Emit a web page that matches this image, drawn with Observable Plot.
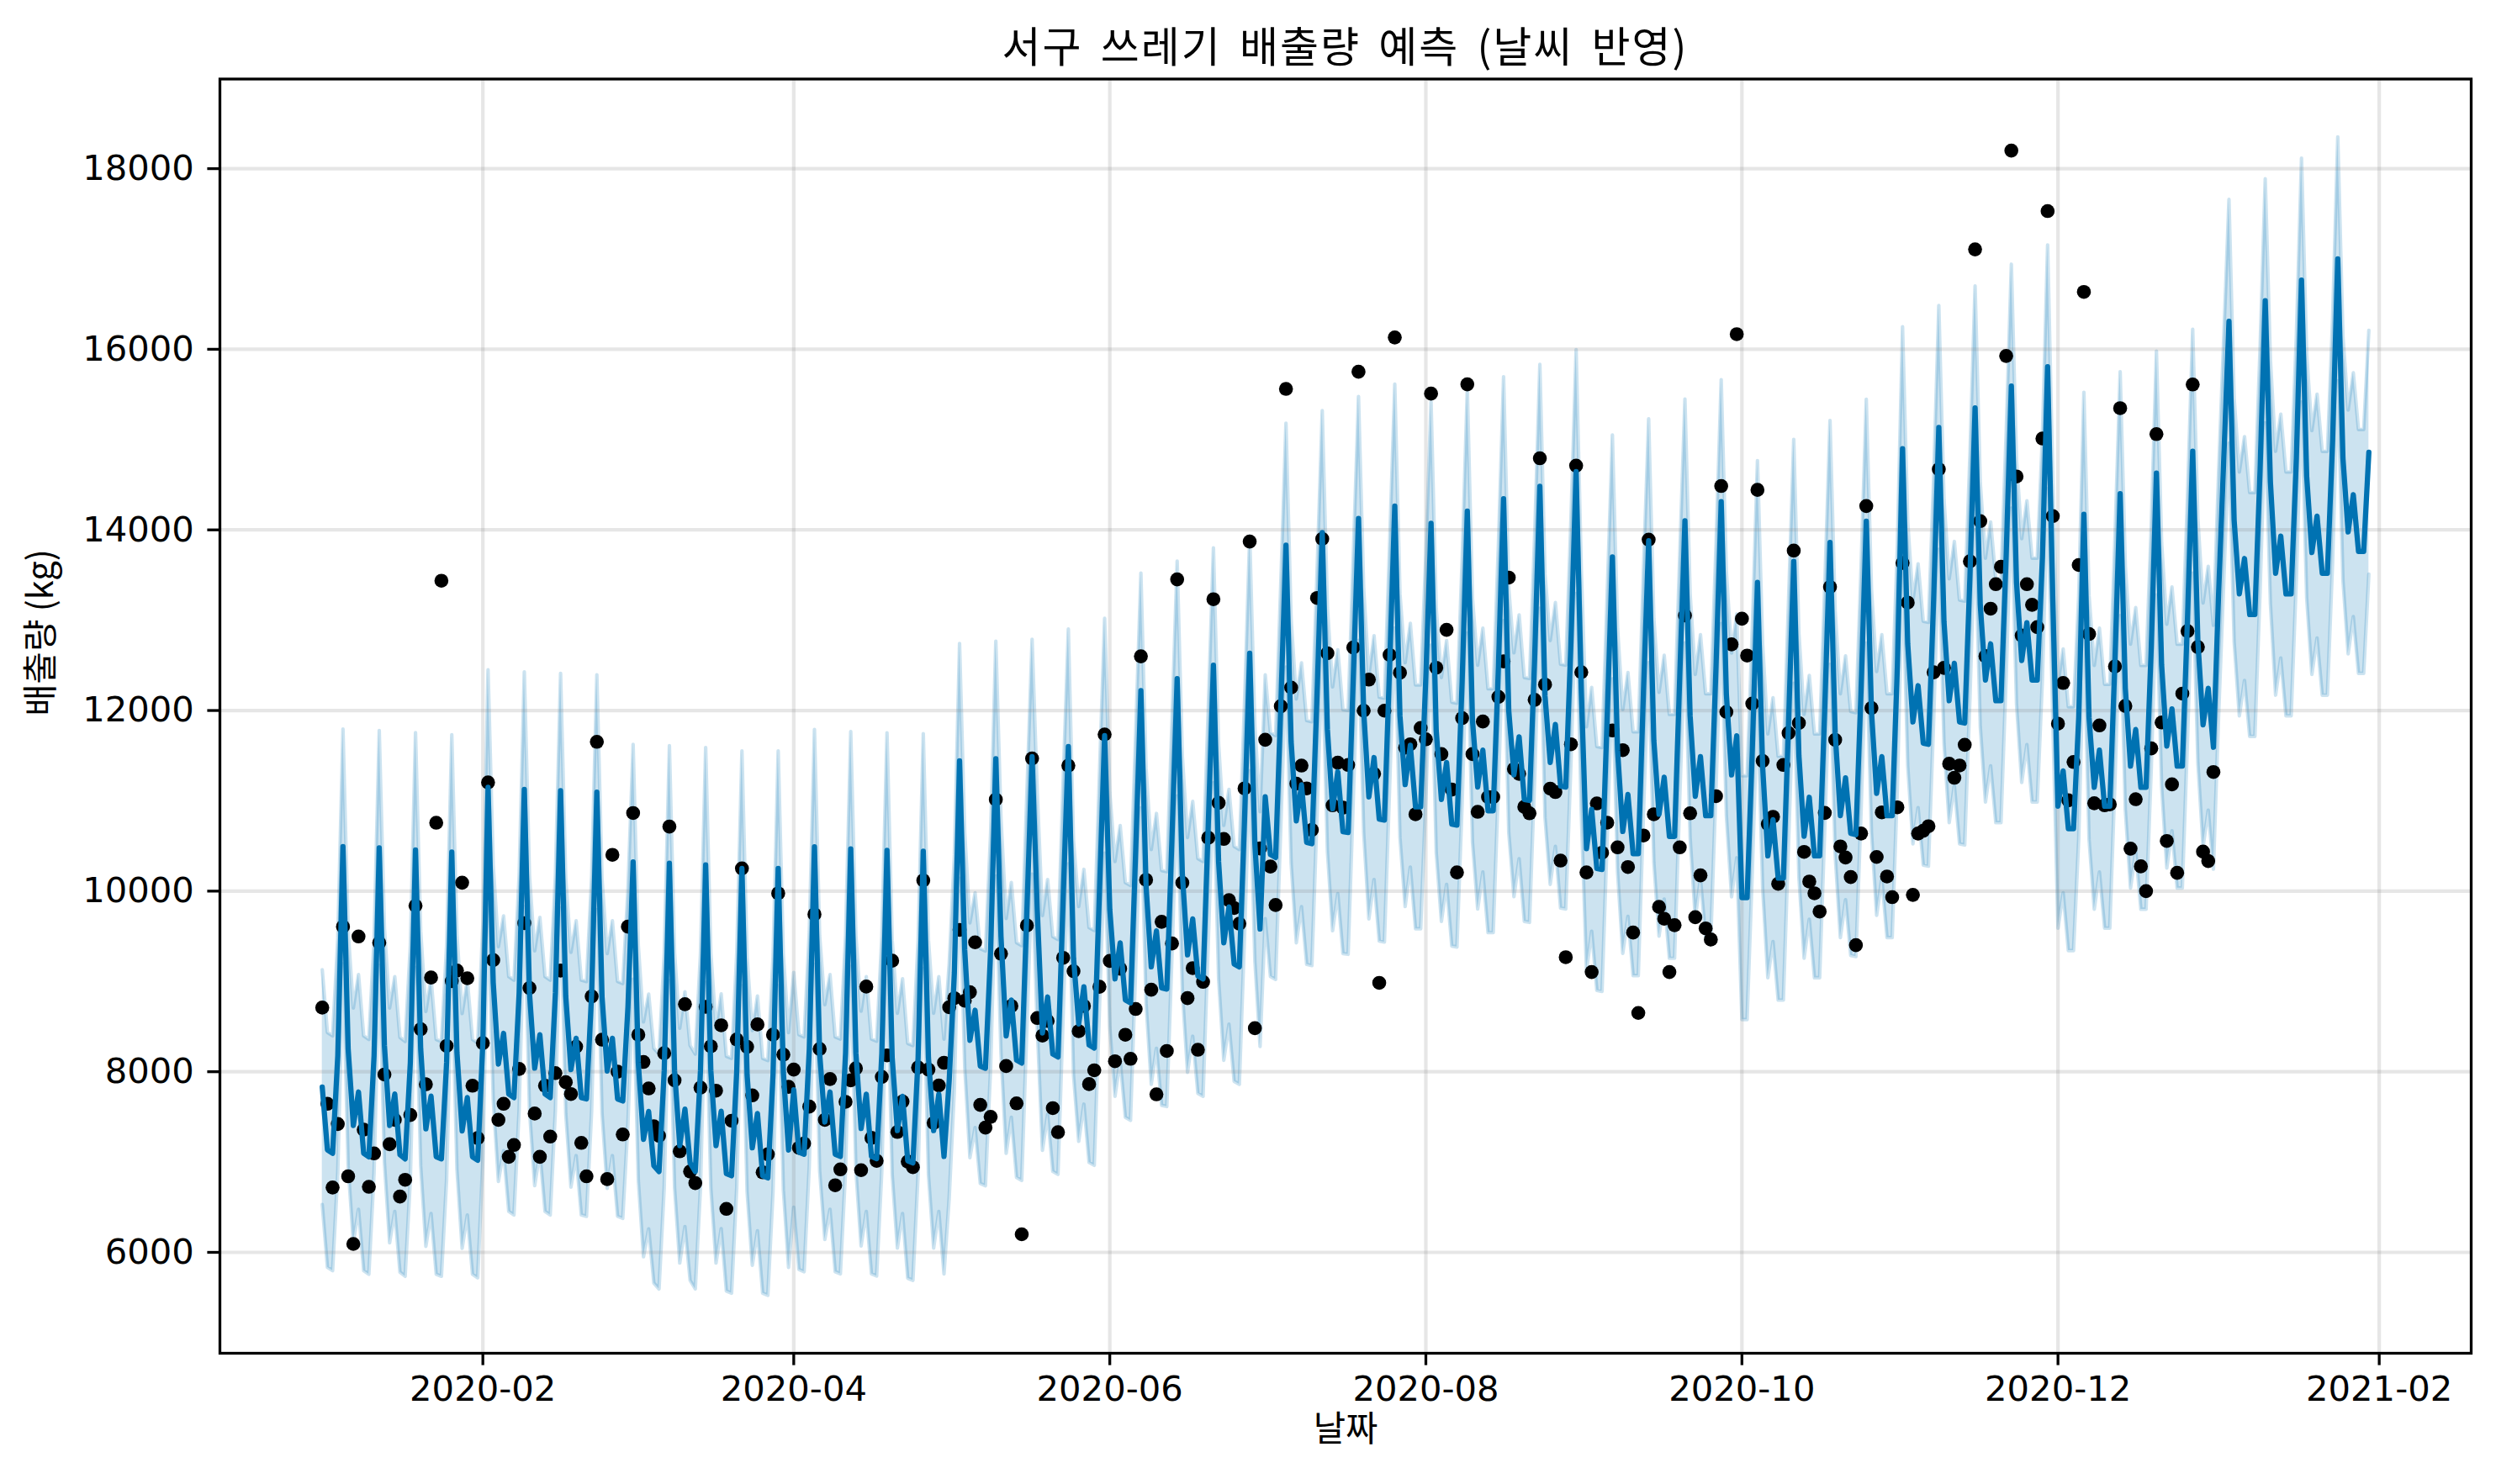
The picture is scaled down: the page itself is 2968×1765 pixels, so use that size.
<!DOCTYPE html>
<html>
<head>
<meta charset="utf-8">
<script src="https://cdn.jsdelivr.net/npm/d3@7"></script>
<script src="https://cdn.jsdelivr.net/npm/@observablehq/plot@0.6"></script>
<style>
  html, body { margin: 0; padding: 0; background: #ffffff; }
  #wrap { width: 2968px; height: 1765px; position: relative; background: #ffffff; }
  #title { position: relative; width: 2968px; height: 80px; }
  #title span {
    position: absolute; left: 1599.5px; top: 22px; transform: translateX(-50%);
    font-family: "Noto Sans CJK KR", sans-serif; font-size: 50px; line-height: 60px;
    letter-spacing: 2px; word-spacing: 8px; color: #000; white-space: nowrap;
  }
</style>
</head>
<body>
<div id="wrap">
  <div id="title"><span>서구 쓰레기 배출량 예측 (날씨 반영)</span></div>
  <div id="chart"></div>
</div>
<script>
// ---- data ----
const startDate = "2020-01-01";   // first day of the daily series
const titleText = "서구 쓰레기 배출량 예측 (날씨 반영)";
const xLabel = "날짜";
const yLabel = "배출량 (kg)";

// observed daily values (kg), 2020-01-01 .. 2020-12-31
const observed = [
  8710, 7645, 6718, 7421, 9606, 6842, 6093,
  9498, 7359, 6726, 7096, 9428, 7969, 7197,
  7467, 6618, 6803, 7521, 9838, 8471, 7861,
  9043, 10757, 13437, 8286, 9004, 9120, 10093,
  9035, 7845, 7266, 8317, 11204, 9236, 7467,
  7645, 7058, 7189, 8031, 9645, 8927, 7537,
  7058, 7845, 7282, 7985, 9120, 7884, 7753,
  8278, 7212, 6842, 8834, 11653, 8355, 6811,
  10402, 8000, 7305, 9606, 10865, 8409, 8108,
  7815, 7395, 7290, 8205, 10714, 7905, 7119,
  8748, 6895, 6767, 7824, 8719, 8281, 7790,
  8514, 6481, 7457, 8357, 10252, 8276, 7738,
  8524, 6886, 7086, 8410, 9976, 8190, 7833,
  8024, 7157, 7205, 7614, 9743, 8252, 7467,
  7919, 6743, 6919, 7667, 7905, 8038, 6910,
  8943, 7267, 7014, 7943, 8181, 9229, 7333,
  7671, 7005, 6943, 8048, 10119, 8024, 7433,
  7848, 8100, 8714, 8814, 9571, 8786, 8881,
  9433, 7633, 7381, 7500, 11014, 9307, 8063,
  8728, 7650, 6200, 9620, 11469, 8595, 8400,
  8562, 7597, 7331, 9261, 11390, 9114, 8449,
  8728, 7863, 8016, 8941, 11735, 9227, 8116,
  9141, 8409, 8143, 8695, 12600, 10125, 8908,
  7750, 9660, 8230, 9420, 13452, 10092, 8815,
  9147, 8243, 8995, 10591, 13232, 10977, 10578,
  9900, 9813, 9640, 11137, 13871, 8482, 10472,
  11676, 10272, 9846, 12048, 15561, 12254, 11190,
  11390, 11137, 10678, 13246, 13900, 12634, 10950,
  11423, 10924, 11397, 12697, 15751, 11998, 12342,
  11299, 8984, 11998, 12615, 16131, 12418, 11588,
  11626, 10851, 11807, 11681, 15509, 12473, 11517,
  12893, 11124, 10207, 11916, 15612, 11517, 10878,
  11878, 11042, 11042, 12151, 12544, 13472, 11353,
  11299, 10933, 10862, 12118, 14793, 12287, 11135,
  11097, 10338, 9268, 11626, 14711, 12424, 10207,
  9104, 10971, 10425, 10758, 11779, 10485, 11561,
  10267, 9541, 8651, 10616, 13892, 10851, 9825,
  9694, 9104, 9623, 10485, 13052, 10862, 9711,
  10174, 9587, 9464, 11051, 14486, 11984, 12732,
  16167, 13016, 12608, 12077, 14443, 11441, 10743,
  10823, 10081, 11397, 11750, 13770, 11861, 10434,
  10106, 9976, 9773, 10866, 13368, 11675, 10495,
  10372, 10156, 9402, 10638, 14264, 12028, 10378,
  10872, 10162, 9933, 10928, 13634, 13195, 9958,
  10638, 10668, 10718, 12423, 14672, 12472, 11410,
  11255, 11391, 11620, 13652, 17106, 14097, 12602,
  13127, 13399, 13591, 15926, 18200, 14591, 12831,
  13399, 13170, 12923, 15012, 17530, 14153, 11854,
  12305, 11005, 11430, 13611, 16635, 12847, 10973,
  11835, 10950, 10960, 12488, 15348, 12050, 10470,
  11018, 10274, 10000, 11580, 15061, 11867, 10555,
  11182, 10202, 12187, 12880, 15610, 12703, 10437,
  10333, 11319
];

// forecast yhat (kg), 2020-01-01 .. 2021-01-30
const yhat = [
  7830, 7135, 7097, 8178, 10494, 8255, 7405,
  7776, 7097, 7058, 8178, 10479, 8293, 7405,
  7753, 7081, 7035, 8100, 10456, 8255, 7367,
  7730, 7058, 7035, 8100, 10432, 8216, 7344,
  7714, 7058, 7019, 8332, 11150, 8988, 8085,
  8425, 7753, 7714, 8873, 11127, 8873, 8039,
  8410, 7753, 7714, 8873, 11112, 8834, 8023,
  8371, 7714, 7699, 8873, 11096, 8834, 8008,
  8371, 7699, 7676, 8718, 10324, 8100, 7251,
  7560, 6960, 6895, 8014, 10310, 8014, 7181,
  7586, 6990, 6895, 8014, 10290, 8014, 7181,
  7562, 6871, 6848, 8014, 10252, 7967, 7157,
  7538, 6848, 6824, 7967, 10252, 7990, 7133,
  7800, 7110, 7086, 8252, 10490, 8205, 7443,
  7776, 7086, 7062, 8205, 10467, 8205, 7371,
  7752, 7062, 7038, 8205, 10452, 8157, 7348,
  7729, 7014, 6990, 8157, 10443, 8157, 7348,
  7752, 7062, 7900, 9100, 11443, 9348, 8348,
  8681, 8062, 8038, 9348, 11467, 9500, 8396,
  8795, 8130, 8096, 9793, 11489, 9793, 8429,
  8828, 8196, 8163, 9926, 11602, 9261, 8529,
  8941, 8296, 8263, 9992, 11722, 9793, 9028,
  9427, 8795, 8762, 10458, 12221, 10059, 9161,
  9560, 8928, 8915, 10591, 12354, 10192, 9294,
  9693, 9061, 9028, 10724, 12501, 10325, 9427,
  9826, 9194, 9161, 10791, 12634, 10525, 9580,
  11044, 10405, 10372, 12055, 13831, 11656, 10778,
  11177, 10538, 10525, 12188, 13971, 11789, 10911,
  11323, 10658, 10650, 12380, 14127, 11998, 11042,
  11479, 10797, 10786, 12489, 14264, 11943, 11179,
  11616, 10933, 10933, 12380, 14073, 11779, 11015,
  11425, 10742, 10731, 12325, 14209, 11889, 11152,
  11561, 10890, 10890, 12489, 14346, 11998, 11288,
  11709, 11015, 11004, 12598, 14482, 12162, 11425,
  11845, 11162, 11152, 12762, 14646, 12216, 10469,
  10906, 10251, 10240, 11943, 13701, 11561, 10660,
  11070, 10414, 10414, 12216, 13881, 11670, 10851,
  11261, 10606, 10606, 12380, 14100, 11943, 11050,
  11490, 10835, 10835, 12491, 14313, 12182, 11286,
  11719, 9927, 9927, 11564, 13418, 11379, 10390,
  10792, 10143, 10143, 11873, 13652, 11502, 10607,
  11039, 10390, 10390, 12059, 13862, 11750, 10835,
  11255, 10638, 10625, 12244, 14097, 11997, 11082,
  11490, 10835, 10835, 12491, 14900, 12738, 11873,
  12275, 11638, 11626, 13232, 15135, 12985, 12108,
  12522, 11873, 11861, 13479, 15351, 13171, 12337,
  12738, 12108, 12108, 13727, 15592, 13418, 12553,
  12973, 12337, 12337, 13700, 15806, 13226, 10940,
  11332, 10692, 10692, 11920, 14173, 11920, 11149,
  11561, 10940, 10940, 12573, 14401, 12246, 11384,
  11789, 11149, 11149, 12703, 14630, 12508, 11606,
  12018, 11384, 11384, 13030, 14872, 12769, 11841,
  12246, 11593, 13291, 14793, 16309, 14108, 13291,
  13683, 13063, 13063, 14663, 16537, 14532, 13520,
  13931, 13291, 13291, 14793, 16766, 14597, 13749,
  14153, 13520, 13520, 14989, 17001, 14793, 13977,
  14389, 13762, 13762, 14859
];

// half-width of the uncertainty band by month (Jan 2020 .. Jan 2021), kg
const bandHalfWidth = [1300, 1300, 1300, 1300, 1300, 1300, 1350, 1350, 1350, 1350, 1350, 1350, 1350];

// tick values
const yTicks = [6000, 8000, 10000, 12000, 14000, 16000, 18000];
const xTickLabels = ["2020-02", "2020-04", "2020-06", "2020-08", "2020-10", "2020-12", "2021-02"];

// ---- build tables ----
const t0 = new Date(startDate + "T00:00:00Z");
const dayAt = i => d3.utcDay.offset(t0, i);
const monthIndex = d => (d.getUTCFullYear() - 2020) * 12 + d.getUTCMonth();

const obsRows = observed.map((v, i) => ({ds: dayAt(i), y: v}));
const fcstRows = yhat.map((v, i) => {
  const ds = dayAt(i);
  const w = bandHalfWidth[monthIndex(ds)];
  return {ds, yhat: v, lo: v - w, hi: v + w};
});
const xTicks = xTickLabels.map(s => new Date(s + "-01T00:00:00Z"));

// axis limits as matplotlib would set them (5% margins)
const lastDay = fcstRows[fcstRows.length - 1].ds;
const spanMs = lastDay - t0;
const xDomain = [new Date(+t0 - spanMs * 0.05), new Date(+lastDay + spanMs * 0.05)];
const yMin = d3.min(fcstRows, d => d.lo), yMax = Math.max(d3.max(fcstRows, d => d.hi), d3.max(obsRows, d => d.y));
const yPad = (yMax - yMin) * 0.05;
const yDomain = [yMin - yPad, yMax + yPad];

const BLUE = "#0072B2";
const chart = Plot.plot({
  width: 2968,
  height: 1685,
  marginLeft: 261,
  marginRight: 30,
  marginTop: 13.5,
  marginBottom: 156,
  style: {fontFamily: "'DejaVu Sans', 'Noto Sans CJK KR', sans-serif", fontSize: "41.7px", background: "#ffffff", color: "#000"},
  x: {type: "utc", domain: xDomain},
  y: {domain: yDomain},
  marks: [
    Plot.areaY(fcstRows, {x: "ds", y1: "lo", y2: "hi", fill: BLUE, fillOpacity: 0.2}),
    Plot.lineY(fcstRows, {x: "ds", y: "lo", stroke: BLUE, strokeOpacity: 0.2, strokeWidth: 4.2}),
    Plot.lineY(fcstRows, {x: "ds", y: "hi", stroke: BLUE, strokeOpacity: 0.2, strokeWidth: 4.2}),
    Plot.gridX({ticks: xTicks, stroke: "gray", strokeOpacity: 0.2, strokeWidth: 4.2}),
    Plot.gridY({ticks: yTicks, stroke: "gray", strokeOpacity: 0.2, strokeWidth: 4.2}),
    Plot.dot(obsRows, {x: "ds", y: "y", r: 8.3, fill: "#000000"}),
    Plot.lineY(fcstRows, {x: "ds", y: "yhat", stroke: BLUE, strokeWidth: 6.25}),
    Plot.axisX({ticks: xTicks, tickFormat: d3.utcFormat("%Y-%m"), tickSize: 14.6, tickPadding: 12, strokeWidth: 3.3, fontSize: 41.7, label: null}),
    Plot.axisY({ticks: yTicks, tickFormat: d => String(d), tickSize: 14.6, tickPadding: 16, strokeWidth: 3.3, fontSize: 41.7, label: null}),
    Plot.text([yLabel], {frameAnchor: "left", dx: -212, rotate: -90, fontSize: 41.7, fontFamily: "Noto Sans CJK KR", fill: "#000"}),
    Plot.text([xLabel], {frameAnchor: "bottom", dy: 104, fontSize: 41.7, fontFamily: "Noto Sans CJK KR", fill: "#000"}),
    Plot.frame({stroke: "#000", strokeWidth: 3.3})
  ]
});
document.getElementById("chart").appendChild(chart);
document.querySelector("#title span").textContent = titleText;
</script>
</body>
</html>
